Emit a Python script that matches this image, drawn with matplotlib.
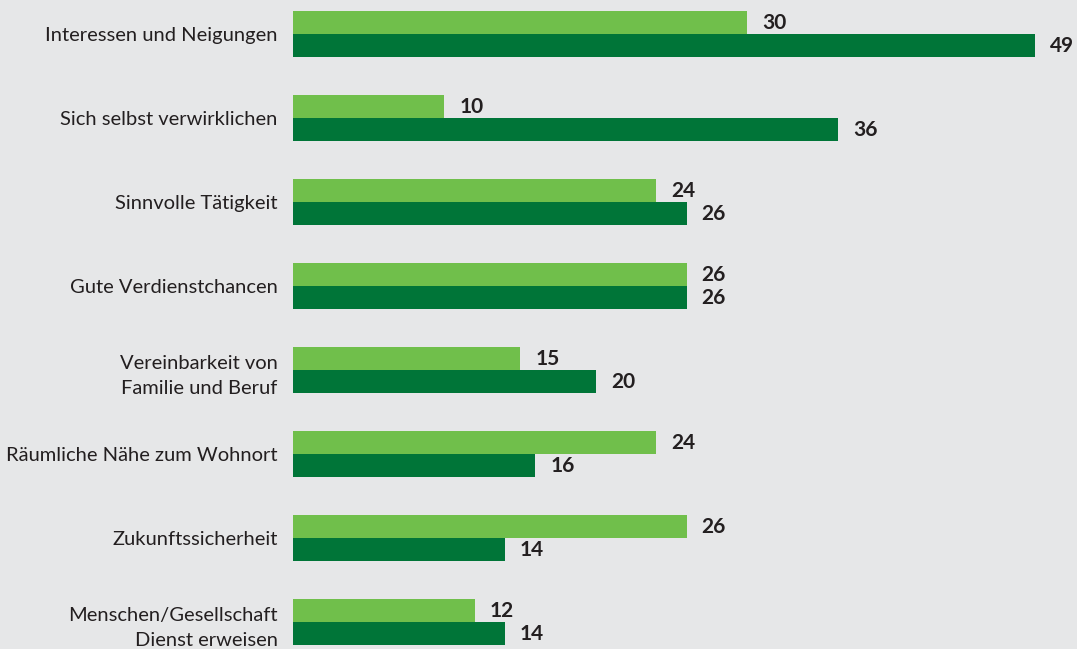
import numpy as np
import matplotlib.pyplot as plt

# Daten
kategorien = ['Interessen und Neigungen', 'Sich selbst verwirklichen',
              'Sinnvolle Tätigkeit', 'Gute Verdienstchancen',
              'Vereinbarkeit von\nFamilie und Beruf',
              'Räumliche Nähe zum Wohnort', 'Zukunftssicherheit',
              'Menschen/Gesellschaft\nDienst erweisen']
hell = [30, 10, 24, 26, 15, 24, 26, 12]
dunkel = [49, 36, 26, 26, 20, 16, 14, 14]

bg = '#e6e7e8'
c_hell = '#70bf4b'
c_dunkel = '#007538'
txt = '#231f20'

plt.rcParams['font.family'] = ['Lato', 'DejaVu Sans']

fig = plt.figure(figsize=(10.77, 6.49), dpi=100, facecolor=bg)
ax = fig.add_axes([293 / 1077, 0, 784 / 1077, 1])
ax.set_facecolor(bg)

y = np.arange(len(kategorien))
h = 23 / 84
ax.barh(y - h / 2, hell, height=h, color=c_hell)
ax.barh(y + h / 2, dunkel, height=h, color=c_dunkel)

# Werte an den Balken
for i in range(len(kategorien)):
    ax.annotate(str(hell[i]), (hell[i], y[i] - h / 2), xytext=(15, 0),
                textcoords='offset pixels', va='center', ha='left',
                fontsize=15, fontweight='bold', color=txt)
    ax.annotate(str(dunkel[i]), (dunkel[i], y[i] + h / 2), xytext=(15, 0),
                textcoords='offset pixels', va='center', ha='left',
                fontsize=15, fontweight='bold', color=txt)

ax.set_xlim(0, 784 / 15.14)
ax.set_ylim((649 - 34) / 84, -34 / 84)
ax.set_yticks(y)
ax.set_yticklabels(kategorien, fontsize=14.5, color=txt, linespacing=1.6)
ax.tick_params(axis='y', length=0, pad=11)
ax.set_xticks([])
for s in ax.spines.values():
    s.set_visible(False)

fig.savefig('out.png', dpi=100, facecolor=bg)
